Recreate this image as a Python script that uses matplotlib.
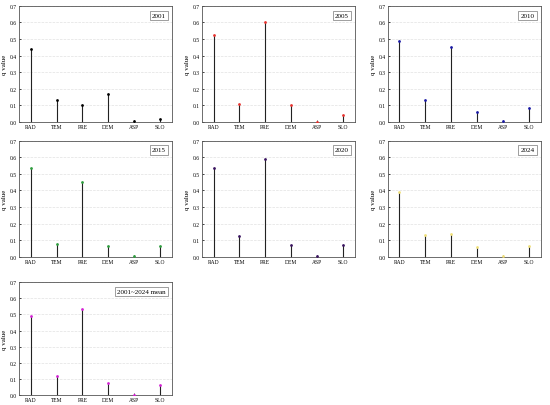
import matplotlib
matplotlib.use('Agg')
import matplotlib.pyplot as plt
import numpy as np

plt.rcParams['font.family'] = ['Liberation Serif', 'DejaVu Serif']

factors = ['RAD', 'TEM', 'PRE', 'DEM', 'ASP', 'SLO']

q2001 = [0.44, 0.135, 0.10, 0.17, 0.005, 0.02]
q2005 = [0.525, 0.11, 0.60, 0.105, 0.003, 0.045]
q2010 = [0.49, 0.13, 0.45, 0.06, 0.005, 0.085]
q2015 = [0.535, 0.08, 0.45, 0.065, 0.005, 0.065]
q2020 = [0.535, 0.125, 0.59, 0.07, 0.003, 0.07]
q2024 = [0.39, 0.13, 0.135, 0.06, 0.002, 0.065]
qmean = [0.49, 0.12, 0.535, 0.072, 0.002, 0.065]

labels = ['2001', '2005', '2010', '2015', '2020', '2024', '2001~2024 mean']
series = [q2001, q2005, q2010, q2015, q2020, q2024, qmean]
colors = ['black', '#e8332f', '#1a1aa6', '#2e9e3e', '#3a1460', '#f0e07a', '#d423d4']

# panel boxes in figure fractions
lefts = [0.0345, 0.367, 0.705]
bottoms = [0.697, 0.365, 0.0246]
w, h = 0.278, 0.286

fig = plt.figure(figsize=(5.5, 4.06), dpi=100)

for k in range(7):
    r, c = divmod(k, 3)
    ax = fig.add_axes([lefts[c], bottoms[r], w, h if r < 2 else 0.278])
    x = np.arange(len(factors))
    ax.vlines(x, 0, series[k], color='#222222', lw=0.8)
    ax.plot(x, series[k], 'o', color=colors[k], ms=2.0, mew=0, zorder=3)
    ax.set_xlim(-0.45, 5.45)
    ax.set_ylim(0, 0.7)
    ax.set_yticks(np.arange(0, 0.71, 0.1))
    ax.set_yticklabels(['%.1f' % v for v in np.arange(0, 0.71, 0.1)])
    ax.set_xticks(x)
    ax.set_xticklabels(factors)
    ax.grid(axis='y', ls='--', color='#e2e2e2', lw=0.5)
    ax.set_axisbelow(True)
    ax.tick_params(labelsize=4, length=1.5, width=0.5, pad=1.5, direction='in')
    for s in ax.spines.values():
        s.set_linewidth(0.6)
        s.set_color('#555555')
    ax.set_ylabel('q value', fontsize=5, labelpad=2)
    ax.text(0.96, 0.92, labels[k], transform=ax.transAxes, ha='right', va='center',
            fontsize=5, bbox=dict(boxstyle='square,pad=0.3', fc='white', ec='#777777', lw=0.5))

fig.savefig('out.png', dpi=100)
